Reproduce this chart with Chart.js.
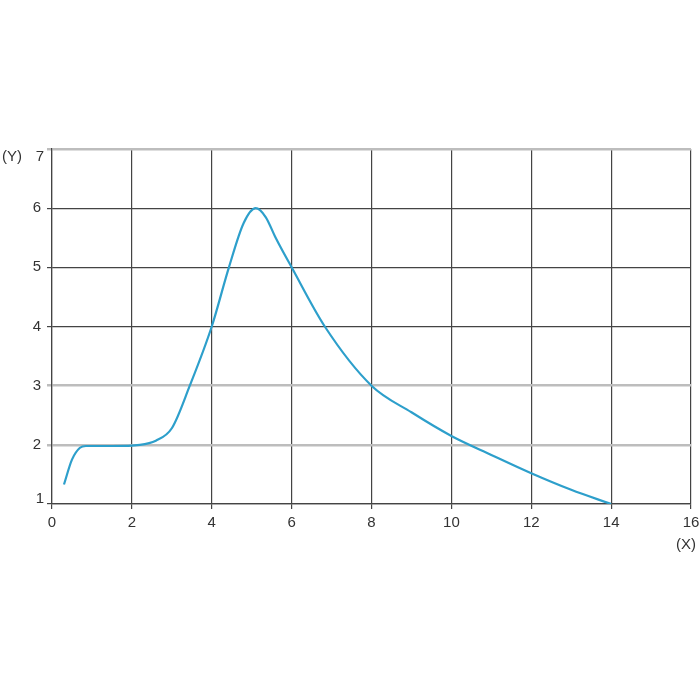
<!DOCTYPE html>
<html>
<head>
<meta charset="utf-8">
<script src="https://cdn.jsdelivr.net/npm/chart.js@4/dist/chart.umd.min.js"></script>
<style>
  html, body { margin: 0; padding: 0; background: #fff; }
  #wrap { width: 700px; height: 700px; }
</style>
</head>
<body>
<div id="wrap"><canvas id="c" width="700" height="700"></canvas></div>
<script>
// values
const xs = [0.3, 0.5, 0.7, 0.85, 1.5, 2.2, 2.6, 3.0, 3.45, 4.0, 4.43, 4.8, 5.1, 5.35, 5.6, 6.0, 6.83, 8.0, 9, 10, 11, 12, 13, 14];
const ys = [1.33, 1.75, 1.95, 1.98, 1.98, 2.0, 2.07, 2.28, 3.0, 4.0, 5.0, 5.75, 6.0, 5.85, 5.5, 5.0, 4.0, 3.0, 2.55, 2.15, 1.83, 1.52, 1.24, 1.0];
const xTicks = [0, 2, 4, 6, 8, 10, 12, 14, 16];
const yTicks = [1, 2, 3, 4, 5, 6, 7];
const lightRows = [7, 3, 2];
const xName = "(X)";
const yName = "(Y)";

const FONT = "'Liberation Sans', Arial, sans-serif";
const yMin = yTicks[0], yMax = yTicks[yTicks.length - 1];

// end labels of the y axis sit nudged inside the plot, like the original
const axisNames = {
  id: "axisNames",
  afterDraw(chart){
    const c = chart.ctx, sx = chart.scales.x, sy = chart.scales.y;
    c.save();
    c.fillStyle = "#333";
    c.font = "15px " + FONT;
    c.textBaseline = "middle";
    c.textAlign = "right";
    c.fillText(String(yMax), sy.right - 8, sy.getPixelForValue(yMax) + 8);
    c.fillText(String(yMin), sy.right - 8, sy.getPixelForValue(yMin) - 5);
    c.textAlign = "left";
    c.fillText(yName, 2, sy.getPixelForValue(yMax) + 8);
    c.textAlign = "center";
    c.fillText(xName, sx.getPixelForValue(16) - 5, 545);
    c.restore();
  }
};

new Chart(document.getElementById("c"), {
  type: "line",
  data: {
    datasets: [{
      data: xs.map((x, i) => ({x, y: ys[i]})),
      borderColor: "#2d9fcb",
      borderWidth: 2.2,
      pointRadius: 0,
      cubicInterpolationMode: "monotone",
      fill: false
    }]
  },
  options: {
    responsive: false,
    animation: false,
    plugins: { legend: {display:false}, tooltip: {enabled:false} },
    layout: { padding: { top: 149, right: 9, bottom: 140, left: 0 } },
    scales: {
      x: {
        type: "linear", min: 0, max: 16,
        afterBuildTicks: s => { s.ticks = xTicks.map(v => ({value: v})); },
        afterFit: s => { s.height = 56; s.paddingLeft = 0; s.paddingRight = 0; },
        ticks: { color: "#333", font: {size: 15, family: FONT}, padding: 5, maxRotation: 0 },
        grid: { color: "#444", lineWidth: 1.2, tickLength: 5 },
        border: { color: "#444", width: 1.2 }
      },
      y: {
        type: "linear", min: yMin, max: yMax,
        afterBuildTicks: s => { s.ticks = yTicks.map(v => ({value: v})); },
        afterFit: s => { s.width = 52; s.paddingTop = 0; s.paddingBottom = 0; },
        ticks: {
          color: "#333", font: {size: 15, family: FONT}, padding: 6,
          callback: v => (v === yMin || v === yMax) ? "" : String(v)
        },
        grid: {
          color: ctx => lightRows.includes(ctx.tick && ctx.tick.value) ? "#bdbdbd" : "#444",
          lineWidth: ctx => lightRows.includes(ctx.tick && ctx.tick.value) ? 2.5 : 1.2,
          tickLength: 5
        },
        border: { color: "#444", width: 1.2 }
      }
    }
  },
  plugins: [axisNames]
});
</script>
</body>
</html>
